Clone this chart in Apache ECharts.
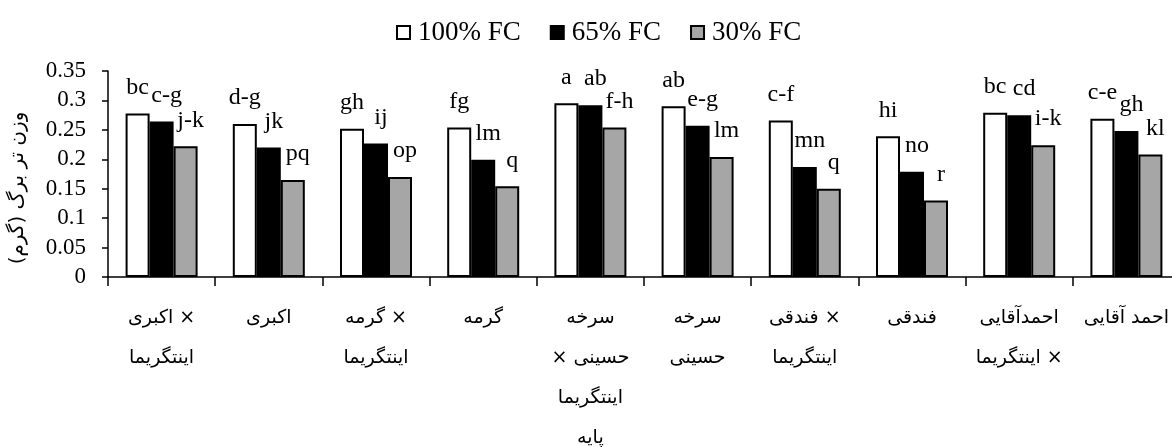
<!DOCTYPE html>
<html><head><meta charset="utf-8">
<script src="https://cdn.jsdelivr.net/npm/echarts@6/dist/echarts.min.js"></script>
<style>html,body{margin:0;padding:0;background:#fff}#c{width:1172px;height:447px}</style>
</head><body><div id="c"></div>
<script>
const categories = [
  'اکبری ×\nاینتگریما',
  'اکبری',
  'گرمه ×\nاینتگریما',
  'گرمه',
  'سرخه\n× حسینی\nاینتگریما\nپایه',
  'سرخه\nحسینی',
  'فندقی ×\nاینتگریما',
  'فندقی',
  'احمدآقایی\nاینتگریما ×',
  'احمد آقایی'
];
const seriesNames = ['100% FC', '65% FC', '30% FC'];
const fc100 = [0.278, 0.260, 0.252, 0.254, 0.295, 0.290, 0.266, 0.239, 0.279, 0.269];
const fc65  = [0.264, 0.220, 0.227, 0.199, 0.292, 0.257, 0.187, 0.179, 0.275, 0.248];
const fc30  = [0.222, 0.165, 0.170, 0.154, 0.254, 0.204, 0.150, 0.130, 0.224, 0.208];
const letters100 = ['bc', 'd-g', 'gh', 'fg', 'a', 'ab', 'c-f', 'hi', 'bc', 'c-e'];
const letters65  = ['c-g', 'jk', 'ij', 'lm', 'ab', 'e-g', 'mn', 'no', 'cd', 'gh'];
const letters30  = ['j-k', 'pq', 'op', 'q', 'f-h', 'lm', 'q', 'r', 'i-k', 'kl'];
const yMin = 0, yMax = 0.35, yStep = 0.05;
const yTitle = 'وزن تر برگ (گرم)\u200F';

const serif = '"Liberation Serif", "DejaVu Serif", serif';
const fills = ['#ffffff', '#000000', '#a6a6a6'];
const values = [fc100, fc65, fc30];
const letters = [letters100, letters65, letters30];
const offs = [[0, 0], [5, 0], [5, 0]];

const chart = echarts.init(document.getElementById('c'));
chart.setOption({
  animation: false,
  backgroundColor: '#fff',
  legend: {
    top: 14, left: 391,
    itemWidth: 13, itemHeight: 13, itemGap: 29,
    icon: 'rect',
    textStyle: { fontFamily: serif, fontSize: 27, color: '#000', padding: [0, 0, 0, 3] },
    data: seriesNames
  },
  grid: { left: 108, top: 71, width: 1072, height: 206, outerBoundsMode: 'none', containLabel: false },
  xAxis: {
    type: 'category', data: categories,
    axisLine: { show: true, lineStyle: { color: '#000', width: 1.5 } },
    axisTick: { show: true, length: 9, lineStyle: { color: '#000', width: 1.5 } },
    axisLabel: { interval: 0, margin: 21, fontFamily: '"DejaVu Sans", sans-serif', fontSize: 19, lineHeight: 40, color: '#000' }
  },
  yAxis: {
    type: 'value', min: yMin, max: yMax, interval: yStep,
    name: yTitle, nameLocation: 'middle', nameRotate: 90, nameGap: 80,
    nameTextStyle: { fontFamily: '"DejaVu Sans", sans-serif', fontSize: 20, color: '#000', padding: [0, 28, 0, 0] },
    axisLine: { show: true, lineStyle: { color: '#000', width: 1.5 } },
    axisTick: { show: true, length: 6, lineStyle: { color: '#000', width: 1.5 } },
    splitLine: { show: false },
    axisLabel: { margin: 22, fontFamily: serif, fontSize: 23, color: '#000' }
  },
  series: seriesNames.map((n, i) => ({
    name: n, type: 'bar', data: values[i],
    barWidth: 24, barGap: '0%',
    itemStyle: { color: fills[i], borderColor: '#000', borderWidth: 2 },
    label: {
      show: true, position: 'top', distance: 14, offset: offs[i],
      fontFamily: serif, fontSize: 24, color: '#000',
      formatter: p => letters[i][p.dataIndex]
    }
  }))
});
</script></body></html>
